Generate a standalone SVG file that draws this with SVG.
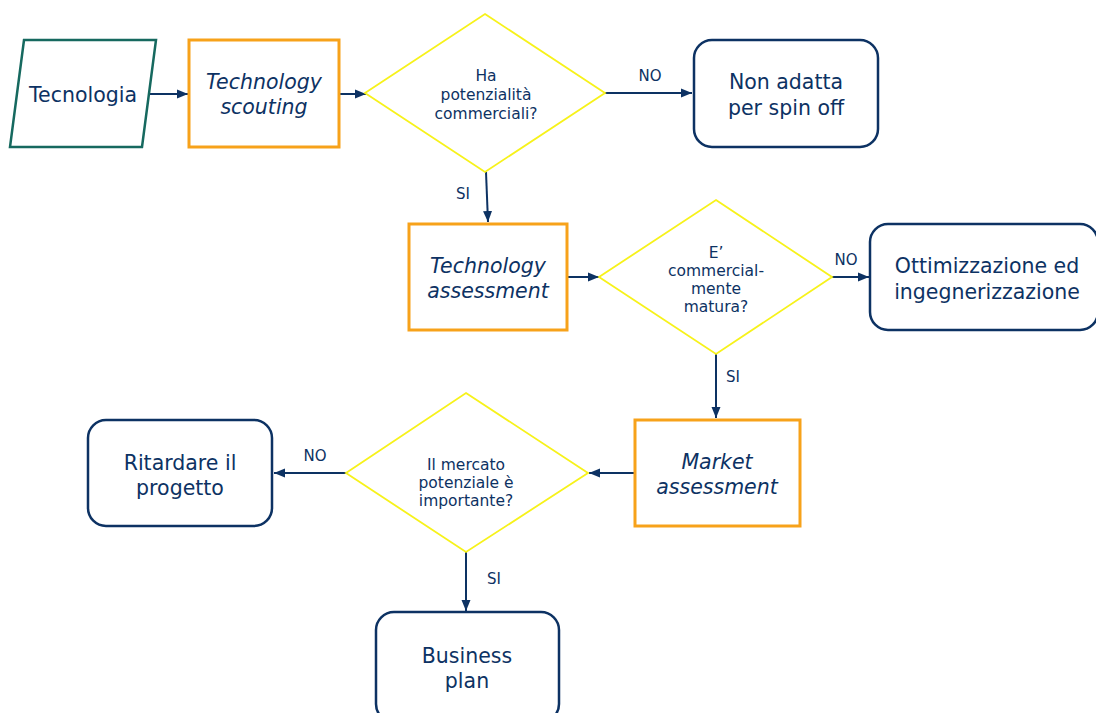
<svg xmlns="http://www.w3.org/2000/svg" width="1096" height="713" viewBox="0 0 1096 713">
  <style>
    .txt { font-family: "DejaVu Sans", Verdana, sans-serif; fill: #0d3263; text-anchor: middle; }
    .box { font-size: 20.5px; }
    .ital { font-size: 20.5px; font-style: italic; }
    .dec { font-size: 15.5px; }
    .lbl { font-size: 15px; }
    .input { fill: #ffffff; stroke: #16695f; stroke-width: 2.5; }
    .process { fill: #ffffff; stroke: #f7a21a; stroke-width: 3; }
    .decision { fill: #ffffff; stroke: #f7f21a; stroke-width: 1.8; }
    .terminal { fill: #ffffff; stroke: #0d3263; stroke-width: 2.5; }
    .conn { fill: none; stroke: #0d3263; stroke-width: 2; marker-end: url(#arrow); }
  </style>
  <defs>
    <marker id="arrow" markerUnits="userSpaceOnUse" markerWidth="12" markerHeight="12" viewBox="0 0 12 12" refX="11" refY="6" orient="auto">
      <path d="M0,1.5 L11,6 L0,10.5 Z" fill="#0d3263"/>
    </marker>
  </defs>
  <rect width="1096" height="713" fill="#ffffff"/>

  <!-- connectors -->
  <g id="connectors">
    <line class="conn" x1="148" y1="94" x2="188" y2="94"/>
    <line class="conn" x1="339" y1="94" x2="366" y2="94"/>
    <line class="conn" x1="605" y1="93" x2="692" y2="93"/>
    <line class="conn" x1="486" y1="172" x2="488" y2="222"/>
    <line class="conn" x1="567" y1="277" x2="599" y2="277"/>
    <line class="conn" x1="832" y1="277" x2="869" y2="277"/>
    <line class="conn" x1="716" y1="354" x2="716" y2="418"/>
    <line class="conn" x1="635" y1="473" x2="589" y2="473"/>
    <line class="conn" x1="346" y1="473" x2="274" y2="473"/>
    <line class="conn" x1="466" y1="552" x2="466" y2="611"/>
    <text class="txt lbl" x="650" y="81">NO</text>
    <text class="txt lbl" x="463" y="199">SI</text>
    <text class="txt lbl" x="846" y="265">NO</text>
    <text class="txt lbl" x="733" y="382">SI</text>
    <text class="txt lbl" x="315" y="461">NO</text>
    <text class="txt lbl" x="494" y="584">SI</text>
  </g>

  <g id="tecnologia">
    <polygon class="input" points="24,40 156,40 142,147 10,147"/>
    <text class="txt box" x="83" y="102">Tecnologia</text>
  </g>

  <g id="technology-scouting">
    <rect class="process" x="189" y="40" width="150" height="107"/>
    <text class="txt ital" x="264" y="89">Technology</text>
    <text class="txt ital" x="264" y="114">scouting</text>
  </g>

  <g id="potenzialita">
    <polygon class="decision" points="485,14 605,93 485,172 365,93"/>
    <text class="txt dec" x="486" y="81">Ha</text>
    <text class="txt dec" x="486" y="100">potenzialità</text>
    <text class="txt dec" x="486" y="119">commerciali?</text>
  </g>

  <g id="non-adatta">
    <rect class="terminal" x="694" y="40" width="184" height="107" rx="18"/>
    <text class="txt box" x="786" y="89">Non adatta</text>
    <text class="txt box" x="786" y="115">per spin off</text>
  </g>

  <g id="technology-assessment">
    <rect class="process" x="409" y="224" width="158" height="106"/>
    <text class="txt ital" x="488" y="273">Technology</text>
    <text class="txt ital" x="488" y="298">assessment</text>
  </g>

  <g id="matura">
    <polygon class="decision" points="716,200 832,277 716,354 599,277"/>
    <text class="txt dec" x="716" y="258">E’</text>
    <text class="txt dec" x="716" y="276">commercial-</text>
    <text class="txt dec" x="716" y="294">mente</text>
    <text class="txt dec" x="716" y="312">matura?</text>
  </g>

  <g id="ottimizzazione">
    <rect class="terminal" x="870" y="224" width="228" height="106" rx="18"/>
    <text class="txt box" x="987" y="273">Ottimizzazione ed</text>
    <text class="txt box" x="987" y="299">ingegnerizzazione</text>
  </g>

  <g id="market-assessment">
    <rect class="process" x="635" y="420" width="165" height="106"/>
    <text class="txt ital" x="717" y="469">Market</text>
    <text class="txt ital" x="717" y="494">assessment</text>
  </g>

  <g id="mercato">
    <polygon class="decision" points="466,393 588,473 466,552 346,473"/>
    <text class="txt dec" x="466" y="470">Il mercato</text>
    <text class="txt dec" x="466" y="488">potenziale è</text>
    <text class="txt dec" x="466" y="506">importante?</text>
  </g>

  <g id="ritardare">
    <rect class="terminal" x="88" y="420" width="184" height="106" rx="18"/>
    <text class="txt box" x="180" y="470">Ritardare il</text>
    <text class="txt box" x="180" y="495">progetto</text>
  </g>

  <g id="business-plan">
    <rect class="terminal" x="376" y="612" width="183" height="110" rx="18"/>
    <text class="txt box" x="467" y="663">Business</text>
    <text class="txt box" x="467" y="688">plan</text>
  </g>
</svg>
